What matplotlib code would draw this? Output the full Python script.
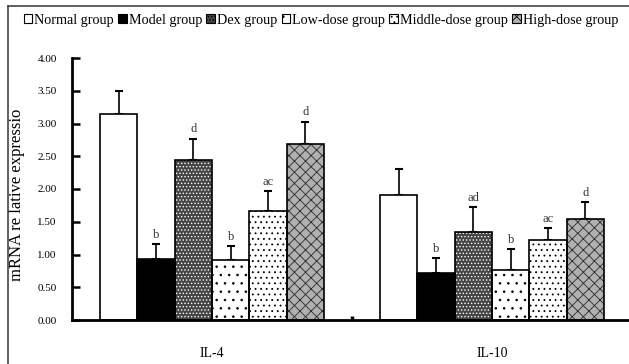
import numpy as np
import matplotlib
matplotlib.use('Agg')
import matplotlib.pyplot as plt
from matplotlib.patches import Patch
from matplotlib.lines import Line2D

plt.rcParams['font.family'] = ['Liberation Serif', 'DejaVu Serif']
plt.rcParams['hatch.linewidth'] = 0.6

# Дані
categories = ['IL-4', 'IL-10']
groups = ['Normal group', 'Model group', 'Dex group', 'Low-dose group',
          'Middle-dose group', 'High-dose group']
means = [
    [3.15, 0.93, 2.45, 0.92, 1.67, 2.69],   # IL-4
    [1.91, 0.71, 1.35, 0.76, 1.22, 1.54],   # IL-10
]
errors = [
    [0.34, 0.23, 0.32, 0.21, 0.30, 0.34],
    [0.40, 0.24, 0.37, 0.32, 0.18, 0.26],
]
letters = [
    ['', 'b', 'd', 'b', 'ac', 'd'],
    ['', 'b', 'ad', 'b', 'ac', 'd'],
]
ytick_vals = [0, 0.5, 1.0, 1.5, 2.0, 2.5, 3.0, 3.5, 4.0]

# Стилі заливки: (колір, штрихування, колір штрихування)
styles = [
    ('white', '', 'black'),
    ('black', '', 'black'),
    ('#454545', '.....', 'white'),
    ('white', '..', 'black'),
    ('white', '...', 'black'),
    ('#b0b0b0', 'xxx', '#2a2a2a'),
]

fig = plt.figure(figsize=(6.29, 3.64), dpi=100)
ax = fig.add_axes([72 / 629, 44 / 364, 557 / 629, 262 / 364])

w = 0.8 / 6
x = np.arange(len(categories))
for j in range(len(groups)):
    fc, hatch, hc = styles[j]
    vals = [means[i][j] for i in range(len(categories))]
    errs = [errors[i][j] for i in range(len(categories))]
    pos = x + (j - 2.5) * w
    ax.bar(pos, vals, w, color=fc, hatch=hatch, edgecolor=hc, linewidth=0, zorder=2)
    ax.bar(pos, vals, w, fill=False, edgecolor='black', linewidth=1.2, zorder=3)
    ax.errorbar(pos, vals, yerr=[np.zeros(len(vals)), errs], fmt='none',
                ecolor='black', elinewidth=1.2, capsize=3, capthick=1.5, zorder=1)
    for i in range(len(categories)):
        if letters[i][j]:
            ax.text(pos[i], vals[i] + errs[i] + 0.05, letters[i][j], ha='center',
                    va='bottom', fontsize=9, color='#333333')

ax.set_xlim(-0.5, 1.5 - 3 / 280)
ax.set_ylim(0, 4.0)
ax.set_yticks(ytick_vals)
ax.set_yticklabels(['%.2f' % v for v in ytick_vals], fontsize=8)
ax.set_xticks(x)
ax.set_xticklabels(categories, fontsize=10)
ax.set_xticks([0.5], minor=True)
ax.tick_params(axis='y', direction='in', length=6, width=1.8, pad=11)
ax.tick_params(axis='x', which='major', length=0, pad=19.5)
ax.tick_params(axis='x', which='minor', direction='in', length=3, width=2.5)
for s in ['top', 'right']:
    ax.spines[s].set_visible(False)
for s in ['left', 'bottom']:
    ax.spines[s].set_linewidth(2)
ax.set_ylabel('mRNA re lative expressio', fontsize=12)
ax.yaxis.set_label_coords(-0.085, 0.477)

# Рамка рисунка (ліва і верхня лінії)
fig.add_artist(Line2D([8 / 629, 8 / 629], [0, 1 - 6 / 364], transform=fig.transFigure,
                      color='#444444', linewidth=1.2))
fig.add_artist(Line2D([8 / 629, 1], [1 - 6 / 364, 1 - 6 / 364], transform=fig.transFigure,
                      color='#444444', linewidth=1.2))

handles = [Patch(facecolor=styles[j][0], hatch=styles[j][1], edgecolor='black',
                 linewidth=0.8) for j in range(len(groups))]
fig.legend(handles, groups, loc='upper left', bbox_to_anchor=(18 / 629, 1 - 8 / 364),
           ncol=6, frameon=False, fontsize=10.2, handlelength=0.6, handleheight=0.6,
           handletextpad=0.15, columnspacing=0.3, borderaxespad=0)

fig.savefig('out.png', dpi=100)
